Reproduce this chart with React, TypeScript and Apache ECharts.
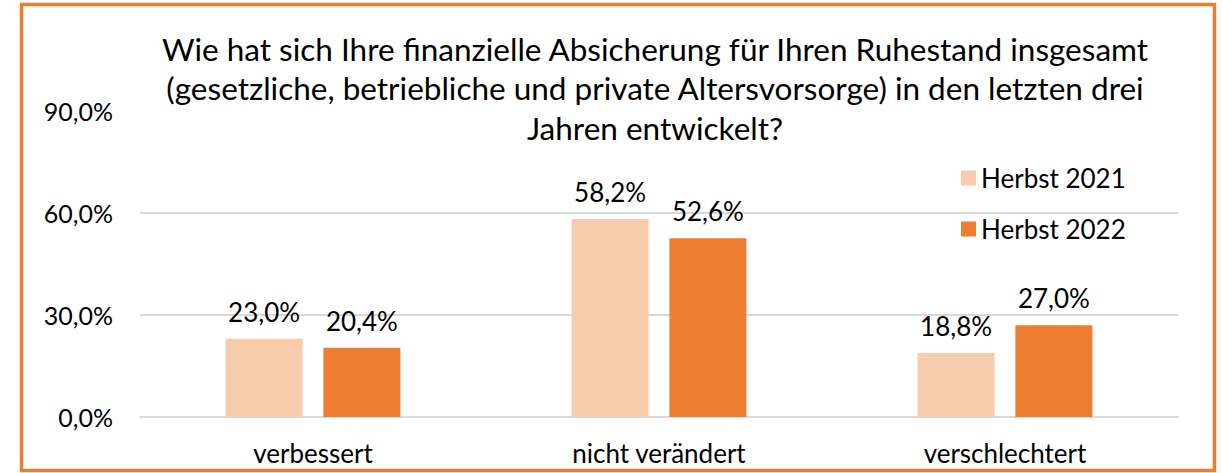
import React, { useEffect, useRef } from "react";
import * as echarts from "echarts";

const categories = ["verbessert", "nicht verändert", "verschlechtert"];
const seriesNames = ["Herbst 2021", "Herbst 2022"];
const herbst2021 = [23.0, 58.2, 18.8];
const herbst2022 = [20.4, 52.6, 27.0];
const yTicks = { min: 0, max: 90, interval: 30 };
const titleText =
  "Wie hat sich Ihre finanzielle Absicherung für Ihren Ruhestand insgesamt\n(gesetzliche, betriebliche und private Altersvorsorge) in den letzten drei\nJahren entwickelt?";

const FONT = "Lato, 'Noto Sans', sans-serif";
const fmt = (v: number) => v.toFixed(1).replace(".", ",") + "%";

export default function App() {
  const ref = useRef<HTMLDivElement>(null);
  useEffect(() => {
    document.body.style.margin = "0";
    const chart = echarts.init(ref.current!, null, { renderer: "svg" });
    const labelCfg = {
      show: true,
      position: "top" as const,
      distance: 12,
      fontFamily: FONT,
      fontSize: 26,
      lineHeight: 30,
      color: "#000",
      formatter: (p: any) => fmt(p.value),
    };
    chart.setOption({
      animation: false,
      backgroundColor: "#fff",
      textStyle: { fontFamily: FONT },
      title: {
        text: titleText,
        left: 650,
        top: 24,
        textAlign: "center",
        textStyle: {
          fontFamily: FONT,
          fontSize: 31.5,
          fontWeight: "normal",
          lineHeight: 39.5,
          color: "#000",
        },
      },
      legend: {
        orient: "vertical",
        left: 961,
        top: 163,
        padding: 0,
        itemWidth: 15,
        itemHeight: 15,
        itemGap: 21,
        icon: "rect",
        data: seriesNames,
        textStyle: {
          fontFamily: FONT,
          fontSize: 26,
          lineHeight: 30,
          color: "#000",
        },
      },
      grid: { left: 140, right: 44, top: 111, bottom: 56, containLabel: false },
      xAxis: {
        type: "category",
        data: categories,
        axisLine: { show: true, lineStyle: { color: "#D9D9D9", width: 2 } },
        axisTick: { show: false },
        axisLabel: {
          fontFamily: FONT,
          fontSize: 26,
          lineHeight: 30,
          color: "#000",
          margin: 21,
        },
      },
      yAxis: {
        type: "value",
        min: yTicks.min,
        max: yTicks.max,
        interval: yTicks.interval,
        axisLine: { show: false },
        axisTick: { show: false },
        splitLine: {
          show: true,
          lineStyle: {
            color: ["#D9D9D9", "#D9D9D9", "#D9D9D9", "rgba(0,0,0,0)"],
            width: 2,
          },
        },
        axisLabel: {
          fontFamily: FONT,
          fontSize: 25,
          color: "#000",
          margin: 27,
          formatter: (v: number) => fmt(v),
        },
      },
      series: [
        {
          name: seriesNames[0],
          type: "bar",
          data: herbst2021,
          barWidth: 77,
          barGap: "27%",
          itemStyle: { color: "#F8CBAD" },
          label: labelCfg,
        },
        {
          name: seriesNames[1],
          type: "bar",
          data: herbst2022,
          barWidth: 77,
          barGap: "27%",
          itemStyle: { color: "#ED7D31" },
          label: labelCfg,
        },
      ],
      graphic: [
        {
          type: "rect",
          shape: { x: 21.5, y: 4.5, width: 1193, height: 466 },
          style: { fill: "none", stroke: "#ED7D31", lineWidth: 3.5 },
          z: 100,
        },
      ],
    });
    return () => chart.dispose();
  }, []);
  return <div ref={ref} style={{ width: 1222, height: 473 }} />;
}
